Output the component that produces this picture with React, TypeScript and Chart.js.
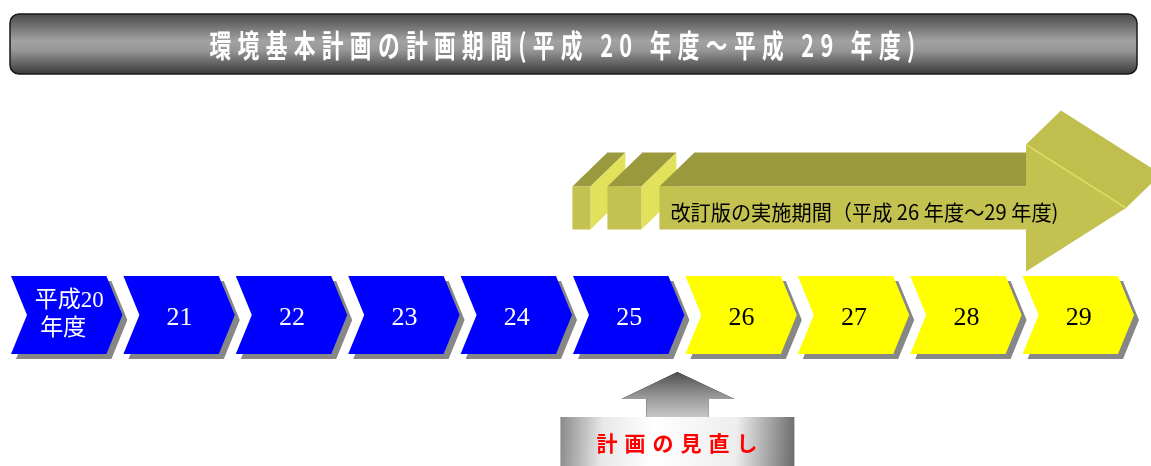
import { useEffect, useRef } from 'react';
import { Chart, registerables } from 'chart.js';

Chart.register(...registerables);

// Fiscal years of the plan (Heisei era) and the text shown on each chevron
const fiscalYears = [20, 21, 22, 23, 24, 25, 26, 27, 28, 29];
const yearLabels = ['平成20\n年度', '21', '22', '23', '24', '25', '26', '27', '28', '29'];

// Revised plan: implemented from FY26 through FY29, reviewed at the start of FY26
const revisedFrom = 26;
const revisedTo = 29;
const reviewYear = 26;

const titleText = '環境基本計画の計画期間(平成 20 年度～平成 29 年度)';
const revisionText = '改訂版の実施期間（平成 26 年度～29 年度)';
const reviewText = '計画の見直し';

const ORIGINAL_FILL = '#0000ff';
const REVISED_FILL = '#ffff00';
const SHADOW = '#878787';
const OLIVE_FRONT = '#c3c150';
const OLIVE_TOP = '#9b993d';
const OLIVE_SIDE = '#e1e15c';
const OLIVE_HEAD_TOP = '#c0be4c';

const SERIF = '"Liberation Serif", "Noto Sans CJK JP", serif';
const SANS = '"Noto Sans CJK JP", "Noto Sans", sans-serif';

function poly(ctx: CanvasRenderingContext2D, pts: number[][], fill: string) {
  ctx.beginPath();
  ctx.moveTo(pts[0][0], pts[0][1]);
  for (let i = 1; i < pts.length; i++) ctx.lineTo(pts[i][0], pts[i][1]);
  ctx.closePath();
  ctx.fillStyle = fill;
  ctx.fill();
}

function chevron(l: number, r: number, yc: number, h: number) {
  const notch = 16;
  const tip = 16;
  return [
    [l, yc - h / 2],
    [r - tip, yc - h / 2],
    [r, yc],
    [r - tip, yc + h / 2],
    [l, yc + h / 2],
    [l + notch, yc],
  ];
}

function drawYears(chart: any, meta: any) {
  const ctx: CanvasRenderingContext2D = chart.ctx;
  const els = meta.data;
  ctx.save();
  // drop shadows first so no shadow sits over a neighbour
  els.forEach((el: any) => {
    const pts = chevron(el.base, el.x - 1, el.y, el.height).map((p) => [p[0] + 5, p[1] + 5]);
    poly(ctx, pts, SHADOW);
  });
  els.forEach((el: any, i: number) => {
    const revised = fiscalYears[i] >= revisedFrom;
    poly(ctx, chevron(el.base, el.x - 1, el.y, el.height), revised ? REVISED_FILL : ORIGINAL_FILL);
    const cx = (el.base + el.x) / 2;
    ctx.fillStyle = revised ? '#000000' : '#ffffff';
    ctx.textAlign = 'center';
    ctx.textBaseline = 'middle';
    const lines = yearLabels[i].split('\n');
    if (lines.length > 1) {
      ctx.font = `23px ${SERIF}`;
      ctx.fillText(lines[0], cx + 2, el.y - 14);
      ctx.fillText(lines[1], cx - 4, el.y + 14);
    } else {
      ctx.font = `26px ${SERIF}`;
      ctx.fillText(lines[0], cx, el.y + 3);
    }
  });
  ctx.restore();
}

function drawRevision(chart: any, meta: any) {
  const ctx: CanvasRenderingContext2D = chart.ctx;
  const el = meta.data[0];
  const dx = 35;
  const dy = -34;
  const base = el.base;
  const end = el.x;
  const yc = el.y;
  const top = yc - el.height / 2;
  const bot = yc + el.height / 2;
  ctx.save();

  // two short lead-in blocks
  const blocks = [
    [base - 113, base - 95],
    [base - 78, base - 44],
  ];
  blocks.forEach(([a, b]) => {
    poly(ctx, [[a, top], [a + dx, top + dy], [b + dx, top + dy], [b, top]], OLIVE_TOP);
    poly(ctx, [[b, top], [b + dx, top + dy], [b + dx, bot + dy], [b, bot]], OLIVE_SIDE);
    poly(ctx, [[a, top], [b, top], [b, bot], [a, bot]], OLIVE_FRONT);
  });

  // arrow body
  const bodyL = base - 26;
  const headL = end - 109;
  const tipX = end - 9;
  const hh = 63.5;
  poly(ctx, [[bodyL, top], [bodyL + dx, top + dy], [headL + dx, top + dy], [headL, top]], OLIVE_TOP);
  poly(ctx, [[bodyL, top], [headL + 1, top], [headL + 1, bot], [bodyL, bot]], OLIVE_FRONT);

  // arrow head: top face, then front face
  poly(ctx, [[headL, yc - hh], [headL + dx, yc - hh + dy], [tipX + dx, yc + dy], [tipX, yc]], OLIVE_HEAD_TOP);
  poly(ctx, [[headL, yc - hh], [tipX, yc], [headL, yc + hh]], OLIVE_FRONT);
  ctx.strokeStyle = '#dcdc5e';
  ctx.lineWidth = 1.5;
  ctx.beginPath();
  ctx.moveTo(headL, yc - hh);
  ctx.lineTo(tipX, yc);
  ctx.stroke();

  ctx.fillStyle = '#000000';
  ctx.font = `21px ${SANS}`;
  ctx.textAlign = 'left';
  ctx.textBaseline = 'middle';
  const tw = ctx.measureText(revisionText).width;
  ctx.translate(bodyL + 11, yc + 4);
  ctx.scale(388 / tw, 1);
  ctx.fillText(revisionText, 0, 0);
  ctx.restore();
}

function drawTitle(chart: any) {
  const ctx: CanvasRenderingContext2D = chart.ctx;
  const x = 10, y = 14, w = 1127, h = 60, r = 9;
  ctx.save();
  const g = ctx.createLinearGradient(0, y, 0, y + h);
  g.addColorStop(0, '#4a4a4a');
  g.addColorStop(0.45, '#a2a2a2');
  g.addColorStop(0.6, '#989898');
  g.addColorStop(1, '#3a3a3a');
  ctx.beginPath();
  ctx.roundRect(x, y, w, h, r);
  ctx.fillStyle = g;
  ctx.fill();
  ctx.lineWidth = 1.5;
  ctx.strokeStyle = '#1a1a1a';
  ctx.stroke();

  // tall, condensed heading text
  ctx.font = `bold 31px ${SANS}`;
  (ctx as any).letterSpacing = '9px';
  const tw = ctx.measureText(titleText).width;
  const target = 712;
  ctx.translate(x + w / 2 - 8, y + h / 2 + 1);
  ctx.scale(target / tw, 1);
  ctx.fillStyle = '#ffffff';
  ctx.textAlign = 'center';
  ctx.textBaseline = 'middle';
  ctx.fillText(titleText, 0, 0);
  ctx.restore();
}

function drawReview(chart: any) {
  const ctx: CanvasRenderingContext2D = chart.ctx;
  const cx = chart.scales.x.getPixelForValue(reviewYear) - 8;
  ctx.save();

  // upward arrow
  const ga = ctx.createLinearGradient(0, 372, 0, 418);
  ga.addColorStop(0, '#4e4e4e');
  ga.addColorStop(0.55, '#9a9a9a');
  ga.addColorStop(1, '#c8c8c8');
  poly(ctx, [[cx, 372], [cx + 57, 399], [cx + 31, 399], [cx + 31, 418], [cx - 31, 418], [cx - 31, 399], [cx - 56, 399]], '#000');
  ctx.fillStyle = ga;
  ctx.fill();

  // label plate
  const bx = cx - 117, by = 417, bw = 234, bh = 52;
  const gb = ctx.createLinearGradient(bx, by + 10, bx + bw, by + bh - 30);
  gb.addColorStop(0, '#8a8a8a');
  gb.addColorStop(0.18, '#e8e8e8');
  gb.addColorStop(0.4, '#ffffff');
  gb.addColorStop(0.75, '#eeeeee');
  gb.addColorStop(1, '#6e6e6e');
  ctx.fillStyle = gb;
  ctx.fillRect(bx, by, bw, bh);

  ctx.fillStyle = '#ff0000';
  ctx.font = `bold 21px ${SANS}`;
  (ctx as any).letterSpacing = '7px';
  ctx.textAlign = 'center';
  ctx.textBaseline = 'middle';
  ctx.fillText(reviewText, cx + 3, 443);
  ctx.restore();
}

const diagramPlugin = {
  id: 'planDiagram',
  beforeDraw(chart: any) {
    drawTitle(chart);
  },
  beforeDatasetDraw(chart: any, args: any) {
    const ds: any = chart.data.datasets[args.index];
    if (ds.kind === 'years') drawYears(chart, args.meta);
    else drawRevision(chart, args.meta);
    return false;
  },
  afterDraw(chart: any) {
    drawReview(chart);
  },
};

export default function App() {
  const ref = useRef<HTMLCanvasElement>(null);

  useEffect(() => {
    if (!ref.current) return;
    const chart = new Chart(ref.current, {
      type: 'bar',
      data: {
        datasets: [
          {
            kind: 'years',
            label: '年度',
            data: fiscalYears.map((y) => ({ x: [y, y + 1], y: 0 })),
            barThickness: 78,
          } as any,
          {
            kind: 'revision',
            label: '改訂版',
            data: [{ x: [revisedFrom, revisedTo + 1], y: 1 }],
            barThickness: 43,
          } as any,
        ],
      },
      options: {
        indexAxis: 'y',
        responsive: false,
        animation: false,
        grouped: false,
        layout: { padding: { left: 11, right: 16, top: 154.5, bottom: 97.5 } },
        scales: {
          x: { type: 'linear', min: 20, max: 30, display: false, offset: false },
          y: { type: 'linear', min: -0.5, max: 1.5, display: false, offset: false },
        },
        plugins: {
          legend: { display: false },
          title: { display: false },
          tooltip: { enabled: false },
        },
      } as any,
      plugins: [diagramPlugin],
    });
    return () => chart.destroy();
  }, []);

  return (
    <div style={{ position: 'fixed', left: 0, top: 0, width: 1151, height: 466, background: '#ffffff' }}>
      <canvas ref={ref} width={1151} height={466} style={{ display: 'block' }} />
    </div>
  );
}
